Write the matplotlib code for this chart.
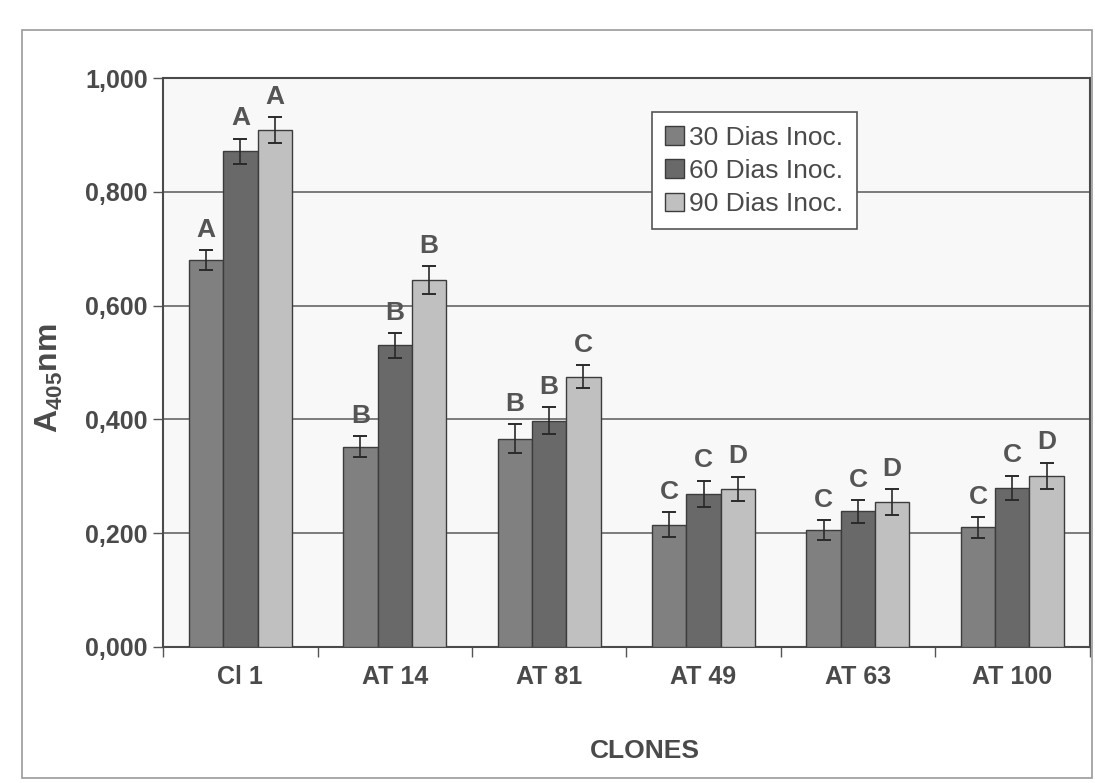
import matplotlib
matplotlib.use("Agg")
import matplotlib.pyplot as plt
import numpy as np
from matplotlib.patches import Rectangle

plt.rcParams['font.family'] = ['Liberation Sans', 'DejaVu Sans']
plt.rcParams['mathtext.fontset'] = 'custom'
plt.rcParams['mathtext.rm'] = 'Liberation Sans:bold'
plt.rcParams['mathtext.default'] = 'rm'

clones = ["Cl 1", "AT 14", "AT 81", "AT 49", "AT 63", "AT 100"]
series_names = ["30 Dias Inoc.", "60 Dias Inoc.", "90 Dias Inoc."]
d30 = [0.680, 0.352, 0.366, 0.215, 0.205, 0.210]
d60 = [0.872, 0.530, 0.398, 0.269, 0.238, 0.280]
d90 = [0.909, 0.645, 0.475, 0.278, 0.254, 0.301]
e30 = [0.018, 0.018, 0.025, 0.022, 0.018, 0.018]
e60 = [0.022, 0.022, 0.024, 0.023, 0.020, 0.021]
e90 = [0.023, 0.025, 0.020, 0.021, 0.023, 0.023]
l30 = ["A", "B", "B", "C", "C", "C"]
l60 = ["A", "B", "B", "C", "C", "C"]
l90 = ["A", "B", "C", "D", "D", "D"]
yticks = [0.0, 0.2, 0.4, 0.6, 0.8, 1.0]

colors = ["#808080", "#696969", "#c0c0c0"]
txt = "#4a4a4a"

fig = plt.figure(figsize=(10.95, 7.83), dpi=100)
fig.patch.set_facecolor("white")
# outer chart frame
fig.patches.append(Rectangle((22 / 1095, 1 - 778 / 783), 1070 / 1095, 748 / 783,
                             transform=fig.transFigure, fill=False,
                             edgecolor="#9a9a9a", lw=1.2))

ax = fig.add_axes([0.149, 0.174, 0.846, 0.726])
ax.set_facecolor("#f8f8f8")

x = np.arange(len(clones))
w = 1 / 4.5
allv = [d30, d60, d90]
alle = [e30, e60, e90]
alll = [l30, l60, l90]
for i in range(3):
    xs = x + (i - 1) * w
    ax.bar(xs, allv[i], width=w, color=colors[i], edgecolor="#3c3c3c",
           linewidth=1.0, label=series_names[i], zorder=3)
    ax.errorbar(xs, allv[i], yerr=alle[i], fmt="none", ecolor="#2a2a2a",
                elinewidth=1.2, capsize=5, capthick=1.4, zorder=4)
    for xi, v, e, lab in zip(xs, allv[i], alle[i], alll[i]):
        ax.annotate(lab, (xi, v + e), xytext=(0, 6), textcoords="offset points",
                    ha="center", va="bottom", fontsize=19, fontweight="bold",
                    color="#555555", zorder=5)

ax.set_ylim(0, 1.0)
ax.set_xlim(-0.5, len(clones) - 0.5)
ax.set_yticks(yticks)
ax.set_yticklabels([f"{t:.3f}".replace(".", ",") for t in yticks],
                   fontsize=18, fontweight="bold", color=txt)
ax.yaxis.grid(True, color="#5a5a5a", linewidth=1.1, zorder=0)
ax.tick_params(axis="y", length=7, width=1, color="#555555", pad=4)

ax.set_xticks(x)
ax.set_xticklabels(clones, fontsize=18, fontweight="bold", color=txt)
ax.tick_params(axis="x", length=0, pad=13)
ax.set_xticks(np.arange(len(clones) + 1) - 0.5, minor=True)
ax.tick_params(axis="x", which="minor", length=7, width=1, color="#555555")

for s in ax.spines.values():
    s.set_color("#4a4a4a")
    s.set_linewidth(1.5)

ax.set_xlabel("CLONES", fontsize=19, fontweight="bold", color=txt)
ax.xaxis.set_label_coords(0.52, -0.163)
ax.set_ylabel("A$_{405}$nm", fontsize=23, fontweight="bold", color=txt)
ax.yaxis.set_label_coords(-0.106, 0.473)

leg = ax.legend(loc="upper left", bbox_to_anchor=(0.528, 0.94), fontsize=19,
                frameon=True, fancybox=False, edgecolor="#555555",
                facecolor="white", framealpha=1, handlelength=0.7,
                handleheight=0.7, handletextpad=0.2, labelspacing=0.35,
                borderpad=0.5, borderaxespad=0)
for t in leg.get_texts():
    t.set_color(txt)
leg.get_frame().set_linewidth(1.2)

fig.savefig("out.png", dpi=100)
